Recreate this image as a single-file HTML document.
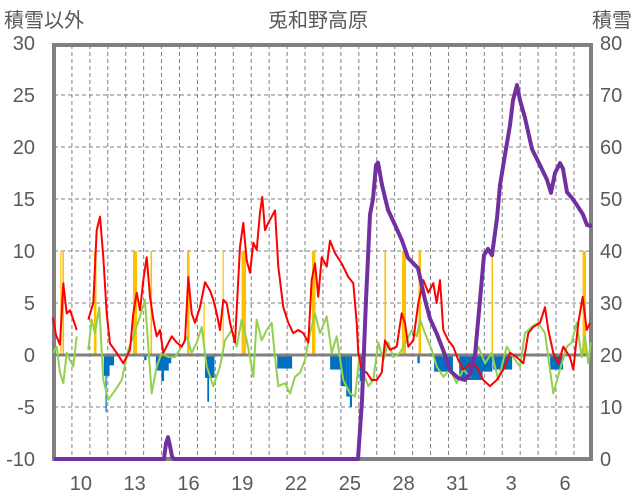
<!DOCTYPE html>
<html><head><meta charset="utf-8">
<style>
body{margin:0;background:#fff;width:636px;height:501px;overflow:hidden;font-family:"Liberation Sans","Noto Sans CJK JP",sans-serif;}
svg{display:block}
</style></head>
<body>
<svg id="chart" width="636" height="501" viewBox="0 0 636 501" xmlns="http://www.w3.org/2000/svg">
<text x="318" y="27" text-anchor="middle" font-size="20" fill="#595959" font-family="Liberation Sans, Noto Sans CJK JP, sans-serif">兎和野高原</text>
<text x="4" y="27" font-size="20" fill="#595959" font-family="Liberation Sans, Noto Sans CJK JP, sans-serif">積雪以外</text>
<text x="632" y="27" text-anchor="end" font-size="20" fill="#595959" font-family="Liberation Sans, Noto Sans CJK JP, sans-serif">積雪</text>
<g id="grid"></g>
<g id="bars"></g>
<g id="lines"></g>
<g id="axes"></g>
</svg>
<script>
// time in days from start of day 9
const dayLabels = ["10","13","16","19","22","25","28","31","3","6"];
const dayLabelT = [1,4,7,10,13,16,19,22,25,28];
const leftTicks = [-10,-5,0,5,10,15,20,25,30];
const rightTicks = [0,10,20,30,40,50,60,70,80];

const redT = [];
const redV = [];
const redPx = [[53,3.6],[56,1.9],[60,1.0],[63.3,6.9],[66.7,4.0],[70,4.3],[73.3,3.4],[76.7,2.4],null,[88.3,3.4],[93.3,5.0],[96.7,12],[100,13.3],[103.3,9.4],[106.7,4.0],[110,1.1],[116.7,0.2],[123.3,-0.8],[130,0.5],[133.3,4.0],[136.7,6.0],[140,4.3],[143.3,7.2],[146.7,9.4],[150,5.6],[153.3,3.4],[156.7,1.8],[160,2.4],[163.3,0.2],[171.7,1.8],[176.7,1.2],[181.7,0.8],[185,1.4],[188.3,7.5],[191.7,4.0],[195,3.1],[200,4.6],[205,7.0],[210,6.2],[213.3,5.3],[216.7,4.0],[220,2.4],[223.3,5.3],[226.7,5.0],[230,3.1],[235,1.2],[240,10.4],[243.3,12.7],[246.7,9.1],[250,7.9],[253.3,10.8],[256.7,10.1],[260,13.7],[262.3,15.2],[265,12.0],[268.3,12.7],[271.7,13.3],[275,13.9],[278.3,8.5],[283.3,4.6],[288.3,3.1],[293.3,2.1],[298.3,2.4],[303.3,2.1],[308.3,1.2],[311.7,7.2],[315,8.8],[318.3,5.6],[321.7,9.4],[326.7,8.5],[330,11.0],[335,9.8],[341.7,8.8],[348.3,7.5],[353.3,6.9],[356.7,3.1],[358.3,0.2],[361.7,-1.4],[366.7,-1.7],[371.7,-2.4],[376.7,-2.4],[381.7,-1.7],[385,1.4],[390,0.5],[396.7,0.8],[401.7,4.0],[405,3.1],[408.3,0.8],[413.3,1.4],[418.3,5.0],[423.3,7.2],[428.3,6.0],[433.3,6.9],[436.7,5.0],[440,7.2],[443.3,2.4],[448.3,1.4],[453.3,0.8],[458.3,-0.5],[463.3,-1.4],[470,-0.8],[476.7,-1.1],[483.3,-2.4],[490,-3.0],[496.7,-2.4],[503.3,-1.4],[510,0.2],[516.7,-0.2],[523.3,-0.8],[528.3,2.1],[533.3,2.7],[540,3.1],[545,4.6],[548.3,2.4],[553.3,0.2],[558.3,-0.8],[563.3,0.8],[570,-0.2],[573.3,-1.4],[578.3,3.1],[582.7,5.6],[586.7,2.4],[590,3.1]];
redPx.forEach(p=>{ if(p===null){redT.push(null);redV.push(null);} else {redT.push(+((p[0]-54)/17.93).toFixed(3)); redV.push(p[1]);} });

const greenT = [];
const greenV = [];
const greenPx = [[53.3,0.2],[56.7,0.8],[60,-1.7],[63.3,-2.7],[66.7,0.2],[70,-0.5],[73.3,-1.1],[76.7,1.8],null,[88.3,0.5],[91.7,3.4],[95,2.1],[99.3,4.6],[103.3,-2.4],[108.3,-4.3],[115,-3.4],[121.7,-2.4],[128.3,0.5],[133.3,1.8],[140,3.7],[145,5.3],[148.3,0.8],[151.7,-3.7],[156.7,-1.1],[161.7,0.2],[168.3,-0.2],[175,-0.2],[181.7,0.8],[186.7,1.8],[191.7,0.2],[196.7,1.2],[201.7,2.7],[206.7,-1.1],[213.3,-3.0],[220,-1.1],[225,1.4],[231.7,2.4],[236.7,0.8],[241.7,3.4],[246.7,1.4],[250,-0.2],[253.3,-2.1],[256.7,3.4],[261.7,1.4],[266.7,2.4],[271.7,3.1],[275,-0.2],[278.3,-3.0],[285,-2.7],[290,-3.7],[295,-2.1],[300,-1.7],[305,-0.5],[310,2.1],[315,4.0],[320,2.1],[326.7,3.7],[331.7,0.2],[336.7,1.8],[343.3,-2.4],[350,-3.7],[355,-4.0],[359.3,-0.2],[363.3,-1.7],[368.3,-3.0],[373.3,-2.4],[378.3,1.2],[383.3,-0.5],[388.3,1.2],[393.3,-0.2],[400,0.2],[406.7,1.4],[411.7,2.4],[416.7,1.8],[420,3.4],[425,2.1],[431.7,0.5],[436.7,-1.1],[443.3,-2.1],[450,-1.4],[456.7,-2.7],[463.3,-1.4],[470,-2.1],[478.3,0.8],[485,-0.8],[491.7,0.2],[498.3,-2.4],[506.7,0.8],[513.3,-0.2],[520,-1.1],[525,2.1],[531.7,2.7],[538.3,3.1],[545,2.1],[550,-1.4],[553.3,-3.7],[560,-1.4],[566.7,0.8],[571.7,1.2],[576.7,3.1],[581.7,-0.2],[585,1.8],[588.3,-0.8],[590.7,1.2]];
greenPx.forEach(p=>{ if(p===null){greenT.push(null);greenV.push(null);} else {greenT.push(+((p[0]-54)/17.93).toFixed(3)); greenV.push(p[1]);} });

const snowT = [];
const snowV = [];
const snowPx = [[54,0],[164,0],[166,3],[168,4.2],[170,2.5],[172,0.5],[174,0],[358,0],[362,11.3],[366,30.6],[370,47],[373,50],[376,56.5],[378,57],[382,52.7],[388,47.9],[395,45],[402,42],[408,38.7],[418,36.7],[425,30.6],[430,27],[437,24],[445,20],[450,17],[458,15.6],[465,15.2],[470,16.3],[475,20],[480,30.6],[484,39.2],[488,40.4],[492,39.2],[497,46.3],[500,52.7],[505,58.5],[510,64.2],[513,69],[517,71.9],[520,69],[525,65.6],[532,59.6],[540,56.5],[547,53.7],[551,51.2],[555,55],[560,56.9],[563,55.8],[567,51.3],[572,50.2],[577,48.8],[583,47],[587,45],[592,44.8]];
snowPx.forEach(p=>{ snowT.push(+((p[0]-54)/17.93).toFixed(3)); snowV.push(p[1]); });

const orangeStart = [0.35,0.47,2.23,4.41,5.38,7.42,8.34,9.40,10.46,14.39,18.43,19.41,20.33,24.40,29.48];
const orangeEnd   = [0.41,0.56,2.37,4.63,5.47,7.56,8.39,9.44,10.71,14.58,18.52,19.63,20.47,24.48,29.67];
const orangeVal   = [10,10,10,10,10,10,5,10,10,10,10,10,10,10,10];

const blueStart = [2.78,2.87,3.07,5.03,5.68,5.99,6.36,8.42,8.55,12.45,15.40,15.99,16.30,16.50,17.05,20.27,21.20,22.60,23.85,24.50,27.67];
const blueEnd   = [3.10,2.93,3.35,5.16,6.40,6.14,6.54,8.95,8.65,13.28,16.00,16.30,16.50,16.62,17.36,20.40,22.25,23.90,24.45,25.55,28.39];
const blueVal   = [-2,-5.5,-1,-0.5,-1.5,-2.5,-0.8,-2.2,-4.5,-1.3,-1.4,-3,-4,-5,-2.5,-0.8,-1.6,-2.4,-1.6,-1.4,-1.4];

const NS='http://www.w3.org/2000/svg';
const X0=54, DAYW=17.93, Y0=355, LPX=10.4, R0=459, RPX=5.2;
const xs = t => X0 + t*DAYW;
const yl = v => Y0 - v*LPX;
const yr = v => R0 - v*RPX;
function mk(tag, parent, attrs){ const e=document.createElementNS(NS,tag); for(const k in attrs) e.setAttribute(k,attrs[k]); parent.appendChild(e); return e; }
const grid=document.getElementById('grid'), bars=document.getElementById('bars'), lines=document.getElementById('lines'), axes=document.getElementById('axes');

leftTicks.forEach(v=>{
  if(v!==0 && v!==-10 && v!==30){
    const g=mk('line',grid,{x1:54,x2:591,y1:yl(v),y2:yl(v),stroke:'#808080','stroke-width':1,'stroke-dasharray':'4,3'});
    
    
  }
  const t=mk('text',axes,{x:35,y:yl(v)+7,'text-anchor':'end','font-size':20,fill:'#595959'});
  t.textContent=v;
  
  
});
rightTicks.forEach(v=>{
  const t=mk('text',axes,{x:600,y:yr(v)+7,'font-size':20,fill:'#595959'});
  t.textContent=v;
  
  
});
for(let d=1; d<30; d++){
  const g=mk('line',grid,{x1:xs(d),x2:xs(d),y1:45,y2:458,stroke:'#808080','stroke-width':1,'stroke-dasharray':'4,3'});
  
  
}
dayLabels.forEach((s,i)=>{
  const t=mk('text',axes,{x:xs(dayLabelT[i]+0.5),y:490,'text-anchor':'middle','font-size':20,fill:'#595959'});
  t.textContent=s;
  
  
});
const fr=mk('rect',grid,{x:54,y:45,width:537,height:414,fill:'none',stroke:'#808080','stroke-width':4});



orangeStart.forEach((s,i)=>{
  const x1=xs(s), x2=Math.max(xs(orangeEnd[i]), x1+1.2);
  const r=mk('rect',bars,{x:x1,y:yl(orangeVal[i]),width:x2-x1,height:Y0-yl(orangeVal[i]),fill:'#FFC000'});
  
  
});
blueStart.forEach((s,i)=>{
  const x1=xs(s), x2=Math.max(xs(blueEnd[i]), x1+1.2);
  const r=mk('rect',bars,{x:x1,y:Y0,width:x2-x1,height:yl(blueVal[i])-Y0,fill:'#0070C0'});
  
  
});

function path(T,V,ymap){
  let d='', pen=false;
  T.forEach((t,i)=>{ if(t===null){pen=false;return;} d+=(pen?'L':'M')+xs(t).toFixed(1)+','+ymap(V[i]).toFixed(1); pen=true; });
  return d;
}
const zl=mk('line',lines,{x1:54,x2:591,y1:Y0,y2:Y0,stroke:'#808080','stroke-width':3});


const gp=mk('path',lines,{d:path(greenT,greenV,yl),fill:'none',stroke:'#92D050','stroke-width':2,'stroke-linejoin':'round'});


const rp=mk('path',lines,{d:path(redT,redV,yl),fill:'none',stroke:'#FF0000','stroke-width':2,'stroke-linejoin':'round'});


const sp=mk('path',lines,{d:path(snowT,snowV,yr),fill:'none',stroke:'#7030A0','stroke-width':4,'stroke-linejoin':'round'});


</script>
</body></html>
